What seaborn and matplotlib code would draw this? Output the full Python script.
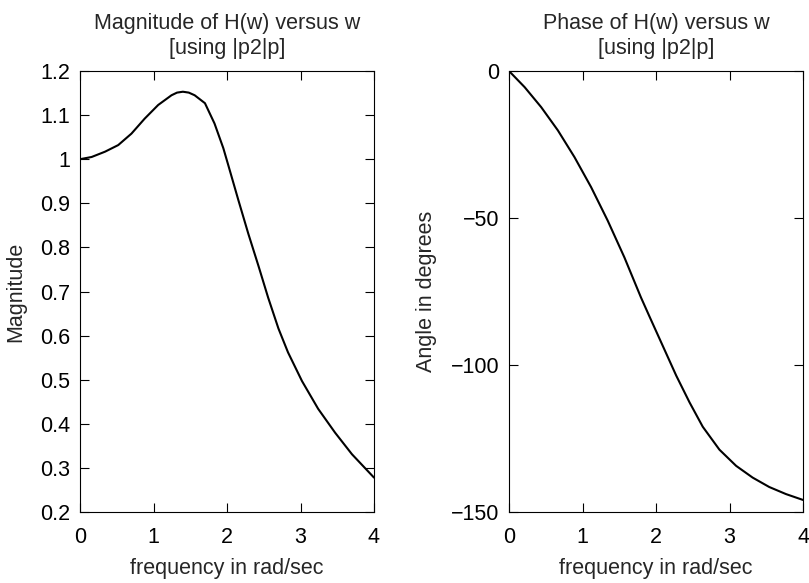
import matplotlib
matplotlib.use("Agg")
import matplotlib.pyplot as plt
import seaborn as sns
import pandas as pd

# Magnitude readings
mag_w = [0, 0.158, 0.34, 0.52, 0.70, 0.88, 1.064, 1.245, 1.32, 1.40, 1.48, 1.56, 1.70, 1.83, 1.95, 2.02,
         2.155, 2.29, 2.43, 2.56, 2.70, 2.83, 3.02, 3.24, 3.47, 3.70, 4.0]
mag = [1.0, 1.005, 1.017, 1.032, 1.058, 1.092, 1.123, 1.145, 1.151, 1.153, 1.151, 1.145, 1.127, 1.081, 1.025, 0.985,
       0.907, 0.831, 0.757, 0.686, 0.616, 0.562, 0.497, 0.434, 0.380, 0.331, 0.278]

# Phase readings (degrees)
ph_w = [0, 0.213, 0.438, 0.665, 0.891, 1.117, 1.343, 1.570, 1.795, 1.913, 2.094, 2.275, 2.456, 2.636,
        2.863, 3.090, 3.315, 3.541, 3.768, 4.0]
ph = [0, -5.5, -12.3, -20.2, -29.3, -39.5, -50.9, -63.4, -77.0, -83.6, -93.6, -103.6, -112.7, -121.0,
      -128.8, -134.3, -138.3, -141.5, -143.9, -145.9]

x_ticks = [0, 1, 2, 3, 4]
mag_ticks = [0.2, 0.3, 0.4, 0.5, 0.6, 0.7, 0.8, 0.9, 1.0, 1.1, 1.2]
mag_labels = ["0.2", "0.3", "0.4", "0.5", "0.6", "0.7", "0.8", "0.9", "1", "1.1", "1.2"]
ph_ticks = [-150, -100, -50, 0]

sns.set_theme(style="ticks")
plt.rcParams['font.family'] = ['Liberation Sans', 'DejaVu Sans']
plt.rcParams['axes.unicode_minus'] = True

W, H = 809, 583
fig = plt.figure(figsize=(W / 100, H / 100), dpi=100)
ax1 = fig.add_axes([80 / W, (H - 512) / H, 294 / W, 441 / H])
ax2 = fig.add_axes([509 / W, (H - 512) / H, 294 / W, 441 / H])

df_mag = pd.DataFrame({"w": mag_w, "m": mag})
df_ph = pd.DataFrame({"w": ph_w, "p": ph})

sns.lineplot(data=df_mag, x="w", y="m", ax=ax1, color="black", linewidth=1.5, sort=False, estimator=None)
sns.lineplot(data=df_ph, x="w", y="p", ax=ax2, color="black", linewidth=1.5, sort=False, estimator=None)

fs = 15.5
for ax in (ax1, ax2):
    ax.set_xlim(0, 4)
    ax.set_xticks(x_ticks)
    ax.set_xticklabels([str(t) for t in x_ticks])
    ax.tick_params(direction="in", top=True, right=True, length=6.5, width=0.8,
                   labelsize=fs, colors="black")
    ax.tick_params(axis="x", pad=11)
    ax.tick_params(axis="y", pad=7)
    for s in ax.spines.values():
        s.set_visible(True)
        s.set_linewidth(0.8)
        s.set_color("black")
    ax.set_xlabel("frequency in rad/sec", fontsize=fs, labelpad=7)

ax1.set_ylim(0.2, 1.2)
ax1.set_yticks(mag_ticks)
ax1.set_yticklabels(mag_labels)
ax1.set_ylabel("Magnitude", fontsize=fs, labelpad=10)
ax1.set_title("Magnitude of H(w) versus w\n[using |p2|p]", fontsize=fs, pad=12, linespacing=1.25)

ax2.set_ylim(-150, 0)
ax2.set_yticks(ph_ticks)
ax2.set_ylabel("Angle in degrees", fontsize=fs, labelpad=10)
ax2.set_title("Phase of H(w) versus w\n[using |p2|p]", fontsize=fs, pad=12, linespacing=1.25)

fig.savefig("out.png", dpi=100, facecolor="white")
